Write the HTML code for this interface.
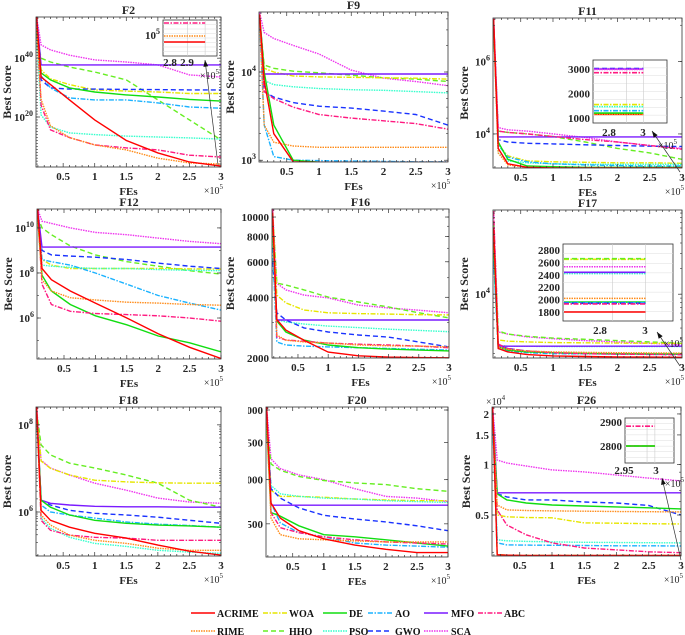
<!DOCTYPE html>
<html><head><meta charset="utf-8"><style>
html,body{margin:0;padding:0;background:#fff;}
svg{display:block;font-family:"Liberation Serif",serif;font-weight:bold;}
</style></head><body>
<svg id="fig" width="685" height="635" viewBox="0 0 685 635" xmlns="http://www.w3.org/2000/svg"></svg>
<script>
// ---- shared data ----
const xPoints=[0.08,0.15,0.3,0.6,1,1.5,2,2.5,3];
const algoNames=["ACRIME","RIME","WOA","HHO","DE","PSO","AO","GWO","MFO","SCA","ABC"];
const xTicks=[0.5,1,1.5,2,2.5,3];
const xTickLabels=["0.5","1","1.5","2","2.5","3"];
// F2 (log10 of best score)
const f2LogScore=[[54,33.6,31,25.8,19,12,7.8,4.7,3.3],[50,26,17,13,10.5,8.8,6,4.4,4],[50,36,33,31,29.2,28.8,28.5,28,28],[48,40,38.7,37,35.3,32.6,25.8,19,12.2],[50,35,32.6,29.9,28.5,27.5,26.8,26,25.4],[48,20.7,16.6,14.6,14,13.5,13.2,12.9,12.5],[50,34,29.9,26.5,25.8,25.8,24.8,23.4,23],[50,32.6,29.9,29.5,29.5,29.4,29.3,29.2,29.2],[54,37.7,37.7,37.7,37.7,37.7,37.7,37.7,37.7],[54,44.5,42.8,41,39.4,38.7,37.7,34.3,33.6],[54,24,15.6,13,10.5,9.5,8.8,7,6.4]];
const f2Ticks=[20,40];const f2TickLabels=["20","40"];
const f2Inset=[5.48,4.96,4.72];
// F9
const f9Score=[[45000,8000,2000,960,950,950,950,950,950],[40000,2500,1600,1450,1400,1400,1400,1400,1400],[40000,11000,10000,9000,8800,8700,8600,8500,8300],[40000,12000,11000,10200,9800,9200,8600,8300,7800],[45000,10000,2500,1000,950,950,950,950,950],[40000,8000,7200,6800,6500,6300,6200,6000,5800],[40000,2500,1100,1000,990,980,970,960,960],[40000,6000,5200,4500,4100,3900,3600,3300,2500],[45000,9500,9500,9500,9500,9500,9500,9500,9500],[47000,28000,24000,20000,16000,10500,8500,7800,7000],[45000,6000,5000,4000,3300,3000,2800,2600,2250]];
const f9Ticks=[3,4];const f9TickLabels=["3","4"];
// F11
const f11Score=[[1.5e7,4000,1500,1200,1150,1150,1150,1150,1150],[1e7,3000,1400,1200,1150,1150,1150,1150,1150],[1e7,5000,2500,1800,1700,1650,1600,1600,1550],[1e7,12000,11000,10000,8500,6000,4000,3000,2000],[1e7,6000,2000,1300,1250,1200,1200,1200,1200],[1e7,3000,1800,1600,1500,1450,1450,1450,1450],[1e7,5000,2300,1700,1500,1400,1350,1300,1300],[1e7,7000,6000,5500,5300,5000,4800,4600,4500],[1.5e7,8300,8300,8300,8300,8300,8300,8300,8300],[1.5e7,15000,13000,12000,10000,8000,6000,4800,4000],[1.5e7,12000,11000,10000,8500,7000,6000,4800,3800]];
const f11Ticks=[4,6];const f11TickLabels=["4","6"];
const f11Inset=[1150,1150,1550,null,1200,1460,1300,3020,3000,2980,2850];
// F12 (log10)
const f12LogScore=[[10.84,8.2,7.7,7.2,6.66,6.0,5.3,4.7,4.2],[10.5,7.7,7.2,6.9,6.8,6.7,6.66,6.6,6.57],[10.5,8.6,8.35,8.2,8.2,8.2,8.2,8.18,8.17],[10.5,10,9.7,9.2,8.8,8.5,8.3,8.1,7.95],[10.5,7.9,7.2,6.6,6.1,5.7,5.2,4.9,4.5],[10.5,8.35,8.3,8.25,8.2,8.2,8.15,8.12,8.1],[10.5,8.6,8.5,8.35,8.0,7.5,7.0,6.66,6.35],[10.5,9.0,8.8,8.75,8.7,8.6,8.44,8.3,8.2],[10.84,9.15,9.15,9.15,9.15,9.15,9.15,9.15,9.15],[10.84,10.3,10.2,10,9.8,9.7,9.55,9.4,9.3],[10.84,7.5,6.6,6.3,6.2,6.15,6.1,6.0,5.86]];
const f12Ticks=[6,8,10];const f12TickLabels=["6","8","10"];
// F16
const f16Score=[[10500,3100,2750,2450,2140,2050,2020,2010,2005],[10000,2600,2450,2400,2370,2320,2300,2290,2270],[10500,4100,3750,3460,3350,3320,3300,3280,3270],[10500,4700,4600,4350,4010,3790,3580,3350,3160],[9000,3050,2690,2455,2320,2250,2215,2190,2170],[8000,3100,3015,2950,2880,2830,2780,2740,2700],[7000,2400,2320,2290,2270,2250,2230,2210,2190],[6000,3350,3085,2820,2690,2600,2540,2400,2270],[10000,3085,3085,3085,3085,3085,3085,3085,3085],[10900,4700,4350,4100,3970,3660,3540,3450,3350],[10900,2540,2455,2420,2370,2340,2320,2290,2250]];
const f16Ticks=[2000,4000,6000,8000,10000];const f16TickLabels=["2000","4000","6000","8000","10000"];
// F17
const f17Score=[[60000,2300,2100,1950,1880,1850,1830,1820,1810],[50000,2400,2250,2150,2100,2070,2050,2040,2030],[60000,2900,2800,2750,2700,2680,2660,2650,2640],[70000,3700,3400,3200,3050,2950,2850,2750,2650],[40000,2400,2200,2100,2050,2020,2000,1990,1980],[30000,2500,2450,2440,2430,2430,2420,2420,2420],[25000,2300,2150,2050,2000,1990,1980,1970,1960],[30000,2500,2300,2150,2050,2000,1980,1960,1950],[60000,2450,2450,2450,2450,2450,2450,2450,2450],[90000,3600,3400,3150,3000,2850,2750,2650,2540],[95000,2600,2300,2150,2050,2000,1970,1960,1950]];
const f17Ticks=[4];const f17TickLabels=["4"];
const f17Inset=[1800,2020,2650,2660,1960,2420,1950,1940,2440,2530,1930];
// F18 (log10)
const f18LogScore=[[8.41,6.04,5.81,5.65,5.51,5.40,5.24,5.10,5.01],[8.3,5.93,5.70,5.47,5.35,5.28,5.17,5.12,5.12],[8.3,7.17,7.0,6.85,6.73,6.69,6.67,6.66,6.66],[8.3,7.54,7.31,7.12,7.01,6.85,6.66,6.27,6.11],[8.3,6.27,6.11,5.93,5.81,5.74,5.70,5.68,5.65],[8.3,5.86,5.63,5.42,5.28,5.21,5.12,5.08,5.05],[8.3,6.16,6.0,5.93,5.86,5.77,5.72,5.69,5.65],[8.3,6.27,6.16,6.04,5.97,5.93,5.88,5.81,5.74],[8.41,6.27,6.2,6.16,6.13,6.12,6.12,6.11,6.11],[8.41,7.19,7.01,6.85,6.66,6.5,6.32,6.23,6.2],[8.41,5.81,5.58,5.47,5.42,5.40,5.35,5.35,5.35]];
const f18Ticks=[6,8];const f18TickLabels=["6","8"];
// F20
const f20Score=[[4050,2725,2560,2430,2350,2290,2250,2220,2220],[3800,2560,2390,2350,2340,2330,2320,2320,2320],[3800,2870,2800,2800,2790,2770,2760,2750,2750],[3800,3200,3120,3040,2990,2960,2940,2890,2860],[3800,2620,2580,2480,2390,2370,2340,2310,2280],[3800,2930,2830,2800,2780,2770,2750,2740,2730],[3800,2725,2510,2410,2370,2310,2290,2280,2270],[3800,2890,2780,2670,2590,2550,2520,2480,2430],[4050,2700,2700,2700,2700,2700,2700,2700,2700],[4050,3270,3140,3060,3000,2890,2800,2780,2740],[4050,2620,2460,2410,2370,2340,2320,2310,2300]];
const f20Ticks=[2500,3000,3500,4000];const f20TickLabels=["2500","3000","3500","4000"];
// F26
const f26Score=[[22000,2900,2880,2870,2870,2870,2870,2870,2870],[20000,5740,5360,5320,5290,5270,5250,5230,5220],[20000,5010,4880,4830,4810,4490,4470,4440,4420],[20000,2900,2880,2870,2870,2870,2870,2870,2870],[20000,6680,6150,5900,5740,5660,5590,5520,5440],[18000,3560,3510,3480,3460,3440,3430,3420,3410],[18000,3410,3320,3310,3300,3290,3280,3280,3270],[20000,6680,6410,6150,6150,5980,5900,5700,5000],[22000,6780,6780,6780,6780,6780,6780,6780,6780],[22000,10640,10210,9790,9290,9030,8660,8300,7980],[22000,5360,4360,3810,3410,3180,3100,3020,2980]];
const f26Ticks=[5000,10000,15000,20000];const f26TickLabels=["0.5","1","1.5","2"];
const f26Inset=[2800,null,null,2800,2800,null,null,null,null,null,2883];

const colors=["#ff0000","#ff8c1a","#e6e600","#66ee22","#11dd11","#33ffcc","#1ab2ff","#1a33ff","#7a1aff","#ee33ee","#ff1a80"];
const dashes=["","1.5 1","5 1.5 1.5 1.5","5 3","","1.5 1","5 1.5 1.5 1.5","5 3","","1.5 1","5 1.5 1.5 1.5"];
const drawOrder=[9,3,2,5,7,8,6,4,10,1,0];
const NS="http://www.w3.org/2000/svg";
const svg=document.getElementById("fig");
function mk(tag,attrs,parent){const e=document.createElementNS(NS,tag);for(const k in attrs)e.setAttribute(k,attrs[k]);(parent||svg).appendChild(e);return e;}
function txt(s,x,y,size,anchor,parent){const t=mk("text",{x:x,y:y,"font-size":size,"text-anchor":anchor||"middle",fill:"#262626"},parent);t.textContent=s;return t;}
function pow10(base,exp,x,y,parent){const t=mk("text",{x:x,y:y,"font-size":11,"text-anchor":"end",fill:"#262626"},parent);t.appendChild(document.createTextNode(base));const s=mk("tspan",{dy:-5,"font-size":8},t);s.textContent=exp;return t;}

const panels=[
 {id:"f2",title:"F2",box:[36,17,221,167],data:f2LogScore,isLog:true,lo:3,hi:54,ticks:f2Ticks,labels:f2TickLabels,pow:true},
 {id:"f9",title:"F9",box:[259,12,448,162],data:f9Score,isLog:false,lo:2.98,hi:4.68,ticks:f9Ticks,labels:f9TickLabels,pow:true},
 {id:"f11",title:"F11",box:[493,18,682,168],data:f11Score,isLog:false,lo:3.06,hi:7.2,ticks:f11Ticks,labels:f11TickLabels,pow:true},
 {id:"f12",title:"F12",box:[37,209,221,359],data:f12LogScore,isLog:true,lo:4.18,hi:10.84,ticks:f12Ticks,labels:f12TickLabels,pow:true},
 {id:"f16",title:"F16",box:[272,209,449,358],data:f16Score,isLog:false,lo:Math.log10(2000),hi:Math.log10(10960),ticks:f16Ticks,labels:f16TickLabels,pow:false},
 {id:"f17",title:"F17",box:[493,210,682,358],data:f17Score,isLog:false,lo:3.25,hi:4.99,ticks:f17Ticks,labels:f17TickLabels,pow:true},
 {id:"f18",title:"F18",box:[36,407,221,556],data:f18LogScore,isLog:true,lo:4.99,hi:8.41,ticks:f18Ticks,labels:f18TickLabels,pow:true},
 {id:"f20",title:"F20",box:[266,407,448,557],data:f20Score,isLog:false,lo:Math.log10(2180),hi:Math.log10(4050),ticks:f20Ticks,labels:f20TickLabels,pow:false,clipLabels:248},
 {id:"f26",title:"F26",box:[492,407,681,556],data:f26Score,isLog:false,lo:Math.log10(2850),hi:Math.log10(22000),ticks:f26Ticks,labels:f26TickLabels,pow:false,mult:true}
];
const XMIN=0.07,XMAX=3;

panels.forEach(p=>{
 const [L,T,R,B]=p.box;
 const g=mk("g",{});
 
 
 const xs=v=>L+(v-XMIN)/(XMAX-XMIN)*(R-L);
 const ys=v=>{const e=p.isLog?v:Math.log10(v);return B-(e-p.lo)/(p.hi-p.lo)*(B-T);};
 const yt=v=>p.pow?ys(p.isLog?v:Math.pow(10,v)):ys(v);
 mk("rect",{x:L,y:T,width:R-L,height:B-T,fill:"#fff"},g);
 const cp=mk("clipPath",{id:"clip-"+p.id},g);
 mk("rect",{x:L,y:T,width:R-L,height:B-T},cp);
 if(p.clipLabels){const c=mk("clipPath",{id:"lab-"+p.id},g);mk("rect",{x:p.clipLabels,y:T-10,width:L-p.clipLabels,height:B-T+20},c);}
 const lines=mk("g",{"clip-path":"url(#clip-"+p.id+")"},g);
 drawOrder.forEach(si=>{
  const pts=p.data[si].map((v,i)=>xs(xPoints[i]).toFixed(1)+","+ys(v).toFixed(1)).join(" ");
  const pl=mk("polyline",{points:pts,fill:"none",stroke:colors[si],"stroke-width":1.4,"stroke-dasharray":dashes[si]},lines);
  
  
 });
 mk("rect",{x:L,y:T,width:R-L,height:B-T,fill:"none",stroke:"#333","stroke-width":0.8},g);
 for(let v=0.1;v<=3.001;v+=0.1){const x=xs(v);const major=Math.abs(v*2-Math.round(v*2))<1e-6;const len=major?4:2;
  mk("line",{x1:x,y1:B,x2:x,y2:B-len,stroke:"#333","stroke-width":0.7},g);mk("line",{x1:x,y1:T,x2:x,y2:T+len,stroke:"#333","stroke-width":0.7},g);}
 xTicks.forEach((v,i)=>{const t=txt(xTickLabels[i],xs(v),B+13,11,"middle",g);});
 const fe=txt("FEs",(L+R)/2,B+28,11,"middle",g);
 const mult=mk("text",{x:R+2,y:B+27,"font-size":10,"text-anchor":"end",fill:"#262626","font-weight":"normal"},g);
 mult.textContent="×10";const ms=mk("tspan",{dy:-5,"font-size":7},mult);ms.textContent="5";
 const yg=mk("g",p.clipLabels?{"clip-path":"url(#lab-"+p.id+")"}:{},g);
 p.ticks.forEach((v,i)=>{const y=yt(v);
  mk("line",{x1:L,y1:y,x2:L+4,y2:y,stroke:"#333","stroke-width":0.7},g);mk("line",{x1:R,y1:y,x2:R-4,y2:y,stroke:"#333","stroke-width":0.7},g);
  const t=p.pow?pow10("10",p.labels[i],L-3,y+4,yg):txt(p.labels[i],L-3,y+4,11,"end",yg);
  });
 const lo=Math.floor(p.lo),hi=Math.ceil(p.hi);
 for(let k=lo;k<=hi;k++){const mm=p.hi-p.lo<4?[1,2,3,4,5,6,7,8,9]:[1];
  mm.forEach(m=>{const e=k+Math.log10(m);if(e<p.lo||e>p.hi)return;const y=B-(e-p.lo)/(p.hi-p.lo)*(B-T);
   mk("line",{x1:L,y1:y,x2:L+2,y2:y,stroke:"#333","stroke-width":0.6},g);mk("line",{x1:R,y1:y,x2:R-2,y2:y,stroke:"#333","stroke-width":0.6},g);});}
 const ti=txt(p.title,(L+R)/2,T-3,12,"middle",g);
 if(p.id!=="f20"){
  const cx=L-(p.id==="f16"?38:p.id==="f26"?22:25);
  const yl=mk("text",{x:0,y:0,"font-size":12,"text-anchor":"middle",fill:"#262626",transform:"translate("+cx+","+((T+B)/2)+") rotate(-90)"},g);
  yl.textContent="Best Score";}
 if(p.mult){const m2=mk("text",{x:L-6,y:T-2,"font-size":10,fill:"#262626","font-weight":"normal"},g);m2.textContent="×10";const s2=mk("tspan",{dy:-5,"font-size":7},m2);s2.textContent="4";}
});

// ---- insets ----
const insets=[
 {id:"f2",box:[163,20,217,56],lo:4.16,hi:5.6,ends:0.78,vals:[f2Inset[2],f2Inset[1],null,null,null,null,null,null,null,null,f2Inset[0]],yt:[[5,"10","5"]],xl:[["2.8",170],["2.9",187]],xly:66,arrow:[218,165,205,60]},
 {id:"f11",box:[593,60,667,123],lo:796,hi:3367,ends:0.68,vals:f11Inset,yt:[[3000,"3000"],[2000,"2000"],[1000,"1000"]],xl:[["2.8",609],["3",643]],xly:136,arrow:[680,172,652,131]},
 {id:"f17",box:[563,244,673,321],lo:1655,hi:2897,ends:0.75,vals:f17Inset,yt:[[2800,"2800"],[2600,"2600"],[2400,"2400"],[2200,"2200"],[2000,"2000"],[1800,"1800"]],xl:[["2.8",600],["3",645]],xly:334,arrow:[680,366,657,332]},
 {id:"f26",box:[625,418,674,463],lo:2729,hi:2917,ends:0.61,vals:f26Inset,yt:[[2900,"2900"],[2800,"2800"]],xl:[["2.95",624],["3",656]],xly:474,arrow:[681,560,662,478]}
];
insets.forEach(n=>{
 const [L,T,R,B]=n.box;const g=mk("g",{});
 
 
 const ys=v=>B-(v-n.lo)/(n.hi-n.lo)*(B-T);
 mk("rect",{x:L,y:T,width:R-L,height:B-T,fill:"#fff",stroke:"#333","stroke-width":0.8},g);
 for(let i=1;i<8;i++){const y=T+i*(B-T)/8;mk("line",{x1:L,y1:y,x2:R,y2:y,stroke:"#ddd","stroke-width":0.5},g);}
 [0.45,n.ends].forEach(f=>{const x=L+f*(R-L);mk("line",{x1:x,y1:T,x2:x,y2:B,stroke:"#ccc","stroke-width":0.6},g);});
 n.vals.forEach((v,si)=>{if(v==null)return;const y=ys(v);
  const l=mk("line",{x1:L+1,y1:y,x2:L+n.ends*(R-L),y2:y,stroke:colors[si],"stroke-width":1.6,"stroke-dasharray":dashes[si]},g);
  
  });
 n.yt.forEach(t=>{const y=ys(t[0]);if(t.length===3)pow10(t[1],t[2],L-3,y+4,g);else txt(t[1],L-3,y+4,11,"end",g);});
 n.xl.forEach(t=>txt(t[0],t[1],n.xly,11,"middle",g));
 const mm=mk("text",{x:n.box[2]+(n.id==="f2"?2:10),y:n.xly+13,"font-size":10,"text-anchor":"end",fill:"#262626","font-weight":"normal"},g);mm.textContent="×10";const s=mk("tspan",{dy:-5,"font-size":7},mm);s.textContent="5";
 const [x1,y1,x2,y2]=n.arrow;mk("line",{x1:x1,y1:y1,x2:x2,y2:y2,stroke:"#333","stroke-width":0.7},g);
 const a=Math.atan2(y2-y1,x2-x1);const h=7;
 mk("polygon",{points:[x2,y2,x2-h*Math.cos(a-0.35),y2-h*Math.sin(a-0.35),x2-h*Math.cos(a+0.35),y2-h*Math.sin(a+0.35)].join(","),fill:"#111"},g);
});

// ---- legend ----
const legX=[[191,217],[263,289],[323,349],[368,395],[424,451],[478,504]];
const legG=mk("g",{});


const legendOrder=[[0,2,4,6,8,10],[1,3,5,7,9]];
legendOrder.forEach((row,ri)=>{const y=ri===0?613:631;
 row.forEach((si,ci)=>{const e=mk("g",{},legG);
  
  
  mk("line",{x1:legX[ci][0],y1:y,x2:legX[ci][0]+24,y2:y,stroke:colors[si],"stroke-width":1.6,"stroke-dasharray":dashes[si]},e);
  const t=txt(algoNames[si],legX[ci][1],y+4,10,"start",e);t.setAttribute('fill','#111');});
});
</script>
</body></html>
